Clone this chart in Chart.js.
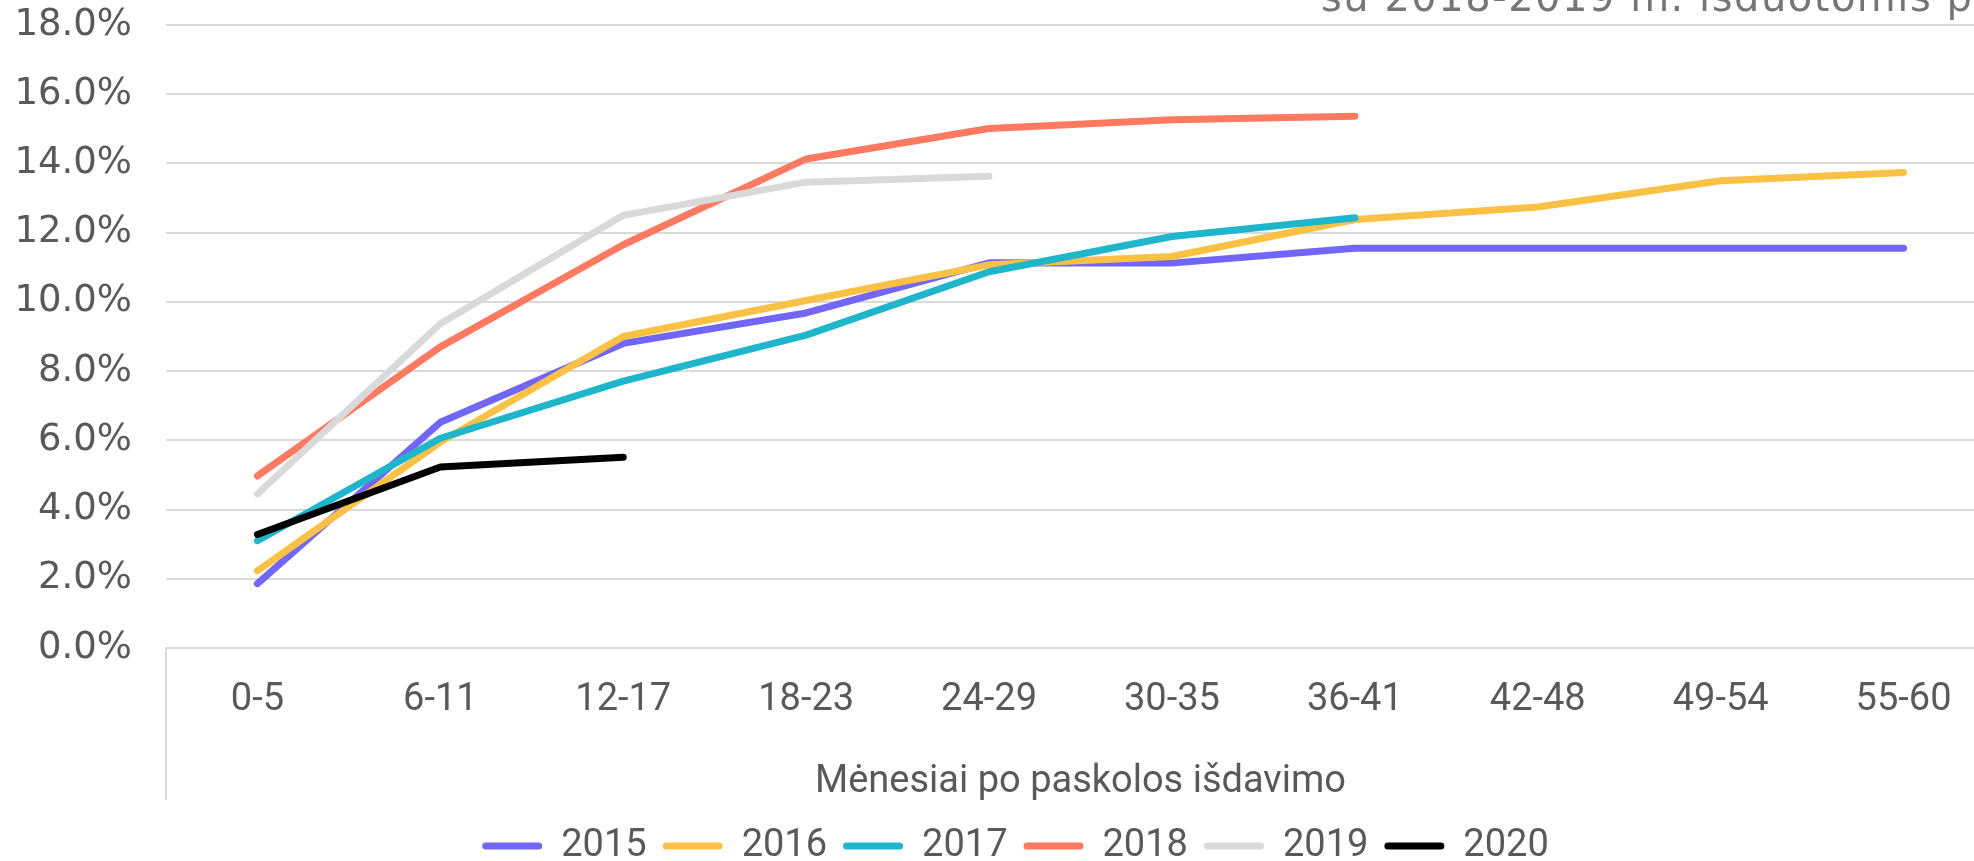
<!DOCTYPE html>
<html lang="lt">
<head>
  <meta charset="UTF-8">
  <title>Paskolų nevykdymas pagal išdavimo metus</title>
  <script src="https://cdn.jsdelivr.net/npm/chart.js"></script>
  <style>
    html, body { margin: 0; padding: 0; background: #fff; overflow: hidden; }
    .wrap { position: relative; width: 1974px; height: 861px; overflow: hidden; }
    .chart-box { position: absolute; left: 0; top: 0; width: 2032px; height: 900px; }
    .cut-title {
      position: absolute; left: 1321px; top: -23px; white-space: nowrap;
      font-family: "DejaVu Sans", sans-serif; font-size: 40px; line-height: 1;
      letter-spacing: 1.5px; color: #767676;
    }
  </style>
</head>
<body>
<div class="wrap">
  <div class="chart-box"><canvas id="grafikas"></canvas></div>
  <div class="cut-title">su 2018-2019 m. išduotomis paskolomis</div>
</div>

<script>
  const menesiai = ['0-5', '6-11', '12-17', '18-23', '24-29', '30-35', '36-41', '42-48', '49-54', '55-60'];
  const metai = ['2015', '2016', '2017', '2018', '2019', '2020'];
  const spalvos = ['#7166f5', '#fbc145', '#1fb5cb', '#ff7a60', '#d9d9d9', '#000000'];

  const v2015 = [1.86, 6.52, 8.8, 9.68, 11.13, 11.12, 11.55, 11.55, 11.55, 11.55];
  const v2016 = [2.23, 5.95, 9.0, 10.04, 11.07, 11.31, 12.38, 12.74, 13.5, 13.74];
  const v2017 = [3.1, 6.06, 7.71, 9.04, 10.87, 11.89, 12.43, null, null, null];
  const v2018 = [4.97, 8.7, 11.65, 14.13, 15.01, 15.26, 15.36, null, null, null];
  const v2019 = [4.45, 9.37, 12.5, 13.46, 13.63, null, null, null, null, null];
  const v2020 = [3.28, 5.23, 5.51, null, null, null, null, null, null, null];
  const reiksmes = [v2015, v2016, v2017, v2018, v2019, v2020];

  const yTicks = [0, 2, 4, 6, 8, 10, 12, 14, 16, 18];

  // vertikali linija po x ašimi (kaip Excel kategorijų ašies rėmelis)
  const asiesRemas = {
    id: 'asiesRemas',
    afterDraw(chart) {
      const { ctx, chartArea } = chart;
      ctx.save();
      ctx.strokeStyle = '#d9d9d9';
      ctx.lineWidth = 2;
      ctx.beginPath();
      ctx.moveTo(chartArea.left, chartArea.bottom);
      ctx.lineTo(chartArea.left, chartArea.bottom + 152);
      ctx.stroke();
      ctx.restore();
    }
  };

  // legenda originale centruota kiek dešiniau
  const legendosPoslinkis = {
    id: 'legendosPoslinkis',
    afterLayout(chart) {
      if (chart.legend) {
        chart.legend.left += 18;
        chart.legend.right += 18;
      }
    }
  };

  const sriftas = 'Roboto, "Noto Sans", sans-serif';

  const ctx = document.getElementById('grafikas').getContext('2d');
  new Chart(ctx, {
    type: 'line',
    data: {
      labels: menesiai,
      datasets: metai.map((m, i) => ({
        label: m,
        data: reiksmes[i],
        borderColor: spalvos[i],
        backgroundColor: spalvos[i],
        borderWidth: 7,
        borderCapStyle: 'round',
        borderJoinStyle: 'round',
        pointRadius: 0,
        pointHoverRadius: 0,
        tension: 0,
        fill: false,
        order: metai.length - i
      }))
    },
    options: {
      responsive: true,
      maintainAspectRatio: false,
      animation: false,
      layout: { padding: { left: 0, right: 37, top: 25, bottom: 25 } },
      plugins: {
        tooltip: { enabled: false },
        legend: {
          position: 'bottom',
          labels: {
            boxWidth: 60,
            boxHeight: 7,
            padding: 16,
            color: '#595959',
            font: { family: sriftas, size: 38 },
            sort: (a, b) => a.datasetIndex - b.datasetIndex,
            generateLabels(chart) {
              return Chart.defaults.plugins.legend.labels.generateLabels(chart).map(it => {
                it.fillStyle = it.strokeStyle;
                it.lineWidth = 0;
                it.borderRadius = 3.5;
                return it;
              });
            },
            useBorderRadius: true,
            borderRadius: 3.5
          }
        }
      },
      scales: {
        x: {
          offset: true,
          grid: { display: false, drawTicks: false },
          border: { display: true, color: '#d9d9d9', width: 2 },
          ticks: {
            padding: 30,
            color: '#595959',
            maxRotation: 0,
            font: { family: sriftas, size: 38 }
          },
          title: {
            display: true,
            text: 'Mėnesiai po paskolos išdavimo',
            color: '#595959',
            padding: { top: 0, bottom: 6 },
            font: { family: sriftas, size: 38 }
          },
          afterFit(scale) { scale.height = 163; }
        },
        y: {
          min: 0,
          max: 18,
          afterBuildTicks(scale) { scale.ticks = yTicks.map(v => ({ value: v })); },
          grid: { color: '#d9d9d9', lineWidth: 2, drawTicks: true, tickLength: 34, tickColor: 'rgba(0,0,0,0)' },
          border: { display: false },
          ticks: {
            padding: 0,
            color: '#595959',
            font: { family: '"DejaVu Sans", sans-serif', size: 37 },
            callback: v => v.toFixed(1) + '%'
          },
          afterFit(scale) { scale.width = 166; }
        }
      }
    },
    plugins: [asiesRemas, legendosPoslinkis]
  });
</script>
</body>
</html>
